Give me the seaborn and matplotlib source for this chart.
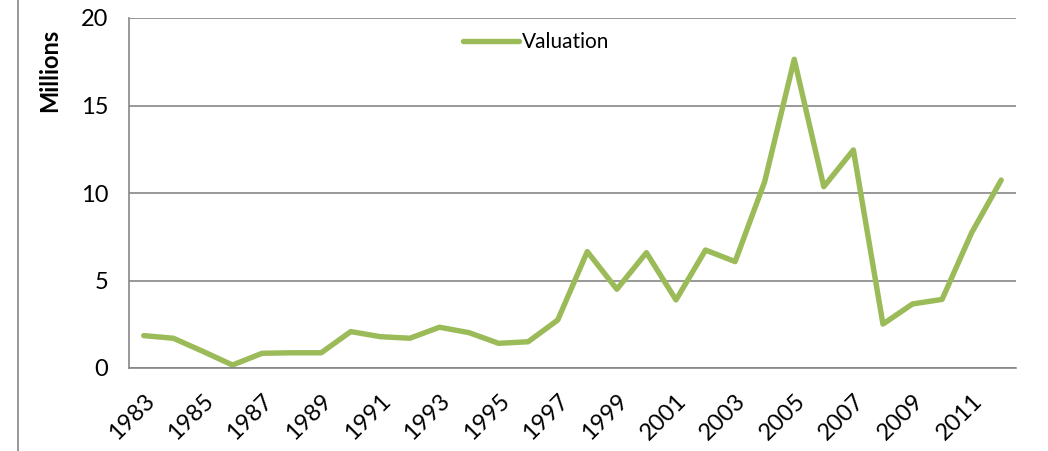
import numpy as np
import pandas as pd
import matplotlib
matplotlib.use("Agg")
import matplotlib.pyplot as plt
import matplotlib.ticker as mticker
from matplotlib.lines import Line2D
import seaborn as sns

# data (values in millions)
years = list(range(1983, 2013))
valuation = [1.85, 1.70, 0.95, 0.17, 0.84, 0.87, 0.87, 2.08, 1.79, 1.70,
             2.33, 2.02, 1.41, 1.50, 2.74, 6.65, 4.50, 6.59, 3.89, 6.74,
             6.08, 10.65, 17.64, 10.36, 12.46, 2.51, 3.66, 3.92, 7.73, 10.74]
y_ticks = [0, 5, 10, 15, 20]

df = pd.DataFrame({"year": years, "valuation": valuation})
df["pos"] = np.arange(len(df))

sns.set_theme(style="white")
plt.rcParams["font.family"] = ["Lato", "DejaVu Sans"]
plt.rcParams["text.color"] = "black"
plt.rcParams["xtick.labelcolor"] = "black"
plt.rcParams["ytick.labelcolor"] = "black"

GRAY = "#868686"
GREEN = "#9BBB59"

fig = plt.figure(figsize=(10.48, 4.51), dpi=100)
ax = fig.add_axes([129 / 1048, 1 - 368 / 451, (1016 - 129) / 1048, 350 / 451])

sns.lineplot(data=df, x="pos", y="valuation", color=GREEN, linewidth=3.9,
             label="Valuation", ax=ax, solid_capstyle="round", solid_joinstyle="round")

ax.set_xlim(-0.5, len(years) - 0.5)
ax.set_ylim(0, 20)
ax.set_yticks(y_ticks)
ax.yaxis.grid(True, color=GRAY, linewidth=1.2)
ax.set_axisbelow(True)

# category boundaries get tick marks, labels sit on every other category
ax.xaxis.set_major_locator(mticker.FixedLocator(np.arange(-0.5, len(years), 2)))
ax.xaxis.set_major_formatter(mticker.NullFormatter())
ax.xaxis.set_minor_locator(mticker.FixedLocator(df["pos"][::2]))
ax.xaxis.set_minor_formatter(mticker.FixedFormatter([str(y) for y in years[::2]]))
ax.tick_params(axis="x", which="major", length=7, width=1.2, color=GRAY, direction="out")
ax.tick_params(axis="x", which="minor", length=0, pad=16, labelsize=17, labelcolor="black")
ax.tick_params(axis="y", length=7, width=1.2, color=GRAY, direction="out", labelsize=17,
               pad=8, labelcolor="black")
for lbl in ax.get_xticklabels(minor=True):
    lbl.set_rotation(45)
    lbl.set_ha("right")
    lbl.set_rotation_mode("anchor")

for s in ["top", "right"]:
    ax.spines[s].set_visible(False)
for s in ["left", "bottom"]:
    ax.spines[s].set_color(GRAY)
    ax.spines[s].set_linewidth(1.2)

ax.set_xlabel("")
ax.set_ylabel("")
fig.text(50 / 1048, 1 - 70 / 451, "Millions", rotation=90, ha="center", va="center",
         fontsize=17, fontweight="bold", color="black")

leg = ax.legend(loc="center", bbox_to_anchor=(0.459, 0.931), frameon=False,
                fontsize=15, handlelength=2.7, handletextpad=0.15)
for t in leg.get_texts():
    t.set_color("black")

# left border line of the chart area
fig.add_artist(Line2D([18 / 1048, 18 / 1048], [0, 1], color=GRAY, linewidth=1.2,
                      transform=fig.transFigure))

fig.savefig("out.png", dpi=100)
